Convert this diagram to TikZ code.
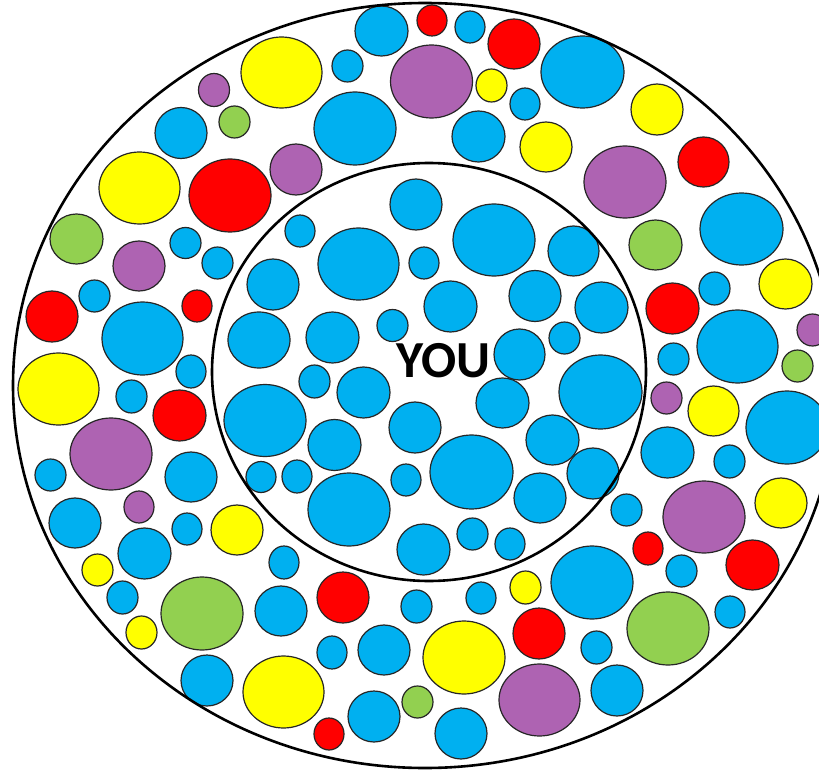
\documentclass[tikz,border=0pt]{standalone}
\usepackage{fontspec}
\newfontfamily\youfont{Carlito}
\definecolor{cblue}{RGB}{0,176,240}
\definecolor{cred}{RGB}{255,0,0}
\definecolor{cyel}{RGB}{255,255,0}
\definecolor{cpur}{RGB}{174,99,178}
\definecolor{cgrn}{RGB}{146,208,80}
\tikzset{
  bubble/.style={draw=black!85, line width=1.2pt},
  ring/.style={draw=black, line width=2.6pt},
}
\newcommand{\bubble}[5]{\fill[bubble, fill=#1] (#2,#3) ellipse [x radius=#4pt, y radius=#5pt];}
\begin{document}
\begin{tikzpicture}[x=1pt,y=-1pt]
\fill[white] (0,0) rectangle (819,770);
\useasboundingbox (0,0) rectangle (819,770);
\clip (0,0) rectangle (819,770);
% outer ring bubbles
\bubble{cyel}{281.5}{72.5}{40.5}{35.5}
\bubble{cpur}{214}{90}{15.5}{16.5}
\bubble{cgrn}{234.5}{122}{15.5}{16}
\bubble{cblue}{181}{133}{26}{25.5}
\bubble{cyel}{139.5}{188}{40.5}{36}
\bubble{cred}{230}{195.5}{41}{36.5}
\bubble{cgrn}{76.5}{239}{26.5}{25}
\bubble{cpur}{139}{266}{26}{25}
\bubble{cblue}{185.5}{243}{15.5}{15.5}
\bubble{cblue}{217.5}{263}{15.5}{16}
\bubble{cpur}{296}{169.5}{26}{25.5}
\bubble{cblue}{381.5}{31}{26.5}{25}
\bubble{cred}{432}{20.5}{15}{15.5}
\bubble{cblue}{470}{27}{15}{16}
\bubble{cred}{514}{44}{26}{25}
\bubble{cblue}{347.5}{66}{15.5}{16}
\bubble{cpur}{431.5}{81.5}{41}{36.5}
\bubble{cyel}{491.5}{85.5}{15.5}{16.5}
\bubble{cblue}{525}{104}{15}{16}
\bubble{cblue}{582.5}{72}{41.5}{36}
\bubble{cblue}{355}{128.5}{41}{36.5}
\bubble{cblue}{478.5}{136.5}{26.5}{25.5}
\bubble{cyel}{546}{147}{26}{25}
\bubble{cyel}{657}{109.5}{26}{25.5}
\bubble{cpur}{625}{182}{41}{36}
\bubble{cred}{703.5}{162}{25.5}{25}
\bubble{cblue}{741.5}{229}{41.5}{36}
\bubble{cgrn}{655.5}{245}{26.5}{25}
\bubble{cred}{52}{316.5}{26}{25.5}
\bubble{cblue}{94.5}{296}{15.5}{16}
\bubble{cblue}{142.5}{338.5}{40.5}{36.5}
\bubble{cred}{197}{306}{15}{16}
\bubble{cyel}{58.5}{389}{40.5}{36}
\bubble{cblue}{131.5}{396.5}{15.5}{16.5}
\bubble{cblue}{191}{371.5}{15}{16.5}
\bubble{cred}{179.5}{415.5}{26.5}{25.5}
\bubble{cpur}{111}{454}{41}{36}
\bubble{cblue}{50.5}{475}{15.5}{16}
\bubble{cblue}{191}{477}{26}{25}
\bubble{cpur}{139}{507}{15}{16}
\bubble{cblue}{75}{523}{26}{25}
\bubble{cyel}{237}{530}{26}{25}
\bubble{cblue}{187}{529}{15}{16}
\bubble{cblue}{144.5}{553.5}{26.5}{25.5}
\bubble{cyel}{97.5}{570}{15.5}{16}
\bubble{cblue}{122.5}{597.5}{15.5}{16.5}
\bubble{cgrn}{202}{613.5}{41}{36.5}
\bubble{cyel}{141.5}{632.5}{15.5}{16.5}
\bubble{cblue}{207}{680.5}{26}{25.5}
\bubble{cblue}{281}{611}{26}{25}
\bubble{cyel}{283.5}{692}{40.5}{36}
\bubble{cblue}{284}{562.5}{15}{16.5}
\bubble{cred}{343}{597.5}{26}{25.5}
\bubble{cblue}{416.5}{606.5}{15.5}{16.5}
\bubble{cblue}{481}{598}{15}{16}
\bubble{cyel}{525.5}{587.5}{15.5}{16.5}
\bubble{cred}{539}{633.5}{26}{25.5}
\bubble{cblue}{332}{652.5}{15}{16.5}
\bubble{cblue}{384}{650}{26}{25}
\bubble{cyel}{464}{657.5}{41}{36.5}
\bubble{cpur}{539.5}{700}{40.5}{36}
\bubble{cred}{329}{734}{15}{16}
\bubble{cblue}{374}{716.5}{26}{25.5}
\bubble{cgrn}{417.5}{702}{15.5}{16}
\bubble{cblue}{461}{733.5}{26}{25.5}
\bubble{cred}{648}{548.5}{15}{16.5}
\bubble{cred}{752.5}{565}{26.5}{25}
\bubble{cblue}{681.5}{571}{15.5}{16}
\bubble{cblue}{592}{582.5}{41}{36.5}
\bubble{cgrn}{668}{628.5}{41}{36.5}
\bubble{cblue}{730}{612}{15}{16}
\bubble{cblue}{596.5}{647.5}{15.5}{16.5}
\bubble{cblue}{617}{690.5}{26}{25.5}
\bubble{cred}{672.5}{308.5}{26.5}{25.5}
\bubble{cblue}{714.5}{288.5}{15.5}{16.5}
\bubble{cyel}{785.5}{284}{26.5}{25}
\bubble{cpur}{812.5}{330}{15.5}{16}
\bubble{cblue}{737.5}{346.5}{40.5}{36.5}
\bubble{cblue}{673.5}{359}{15.5}{16}
\bubble{cgrn}{797.5}{366}{15.5}{16}
\bubble{cpur}{666.5}{398}{15.5}{16}
\bubble{cyel}{713.5}{411}{25.5}{25}
\bubble{cblue}{787}{427.5}{41}{36.5}
\bubble{cblue}{667.5}{452.5}{26.5}{25.5}
\bubble{cblue}{729.5}{461.5}{15.5}{16.5}
\bubble{cpur}{704}{517}{41}{36}
\bubble{cyel}{781}{503}{26}{25}
\bubble{cblue}{626.5}{510}{15.5}{16}
% inner bubbles
\bubble{cblue}{416}{204.5}{26}{25.5}
\bubble{cblue}{300}{231}{15}{16}
\bubble{cblue}{358.5}{264}{40.5}{36}
\bubble{cblue}{424}{263}{15}{16}
\bubble{cblue}{494}{240}{41}{36}
\bubble{cblue}{573.5}{251}{25.5}{25}
\bubble{cblue}{273}{284.5}{26}{25.5}
\bubble{cblue}{259}{340}{31}{28}
\bubble{cblue}{265}{420.5}{41}{36}
\bubble{cblue}{261}{477}{15}{15.5}
\bubble{cblue}{450.5}{306.5}{26.5}{25.5}
\bubble{cblue}{535}{296}{26}{25.5}
\bubble{cblue}{332.5}{337.5}{26.5}{25.5}
\bubble{cblue}{392.5}{325.5}{15.5}{16}
\bubble{cblue}{519.5}{354.5}{25.5}{25.5}
\bubble{cblue}{314.5}{381.5}{15.5}{16.5}
\bubble{cblue}{363.5}{392.5}{26.5}{25.5}
\bubble{cblue}{502.5}{403}{26.5}{25}
\bubble{cblue}{415}{427.5}{26}{25.5}
\bubble{cblue}{334.5}{445}{26.5}{25.5}
\bubble{cblue}{552.5}{440}{26.5}{25}
\bubble{cblue}{471.5}{472}{41.5}{37}
\bubble{cblue}{297}{476.5}{15}{16.5}
\bubble{cblue}{406}{480}{15}{16}
\bubble{cblue}{349}{509.5}{41}{36.5}
\bubble{cblue}{540}{498}{26}{25}
\bubble{cblue}{601.5}{307.5}{26.5}{25.5}
\bubble{cblue}{564.5}{338}{15.5}{16}
\bubble{cblue}{600.5}{392}{41.5}{37}
\bubble{cblue}{593}{473.5}{26}{25.5}
\bubble{cblue}{423.5}{549.5}{26.5}{25.5}
\bubble{cblue}{472.5}{534}{15.5}{16}
\bubble{cblue}{510}{544}{15}{16}
% rings
\draw[ring] (425,385.5) ellipse [x radius=412pt, y radius=382.5pt];
\draw[ring] (429,372) ellipse [x radius=217pt, y radius=209pt];
% label
\node[anchor=base, inner sep=0pt, font=\youfont\bfseries\fontsize{52}{52}\selectfont] (you) at (443.5,377) {YOU};
\end{tikzpicture}
\end{document}
